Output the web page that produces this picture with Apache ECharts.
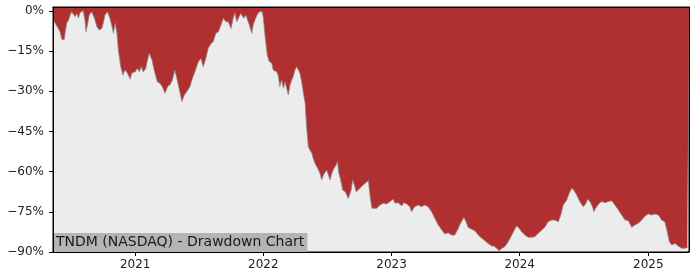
<!DOCTYPE html>
<html>
<head>
<meta charset="utf-8">
<script src="https://cdn.jsdelivr.net/npm/echarts@6/dist/echarts.min.js"></script>
<style>html,body{margin:0;padding:0;background:#fff}#c{width:700px;height:280px}</style>
</head>
<body>
<div id="c"></div>
<script>
const dates = [
'2020-05-12','2020-05-18','2020-05-23','2020-06-01','2020-06-06','2020-06-13','2020-06-16','2020-06-20','2020-06-25','2020-06-30',
'2020-07-04','2020-07-09','2020-07-14','2020-07-19','2020-07-23','2020-07-28','2020-08-02','2020-08-06','2020-08-11','2020-08-14',
'2020-08-19','2020-08-23','2020-08-30','2020-09-02','2020-09-07','2020-09-14','2020-09-21','2020-09-28','2020-10-02','2020-10-07',
'2020-10-14','2020-10-17','2020-10-21','2020-10-26','2020-10-31','2020-11-05','2020-11-10','2020-11-14','2020-11-21','2020-11-27',
'2020-12-03','2020-12-10','2020-12-18','2020-12-22','2021-01-01','2021-01-07','2021-01-13','2021-01-18','2021-01-24','2021-01-31',
'2021-02-05','2021-02-10','2021-02-14','2021-02-18','2021-02-24','2021-03-01','2021-03-05','2021-03-13','2021-03-19','2021-03-27',
'2021-04-04','2021-04-10','2021-04-17','2021-04-24','2021-04-29','2021-05-06','2021-05-14','2021-05-21','2021-05-28','2021-06-06',
'2021-06-13','2021-06-20','2021-06-30','2021-07-07','2021-07-14','2021-07-21','2021-07-28','2021-08-05','2021-08-11','2021-08-19',
'2021-08-26','2021-09-04','2021-09-09','2021-09-16','2021-09-23','2021-10-01','2021-10-07','2021-10-12','2021-10-17','2021-10-24',
'2021-10-29','2021-11-02','2021-11-06','2021-11-12','2021-11-17','2021-11-22','2021-11-29','2021-12-03','2021-12-08','2021-12-14',
'2021-12-20','2021-12-25','2021-12-29','2022-01-01','2022-01-06','2022-01-12','2022-01-18','2022-01-25','2022-01-29','2022-02-03',
'2022-02-08','2022-02-12','2022-02-17','2022-02-22','2022-02-27','2022-03-04','2022-03-06','2022-03-13','2022-03-18','2022-03-23',
'2022-03-27','2022-04-01','2022-04-06','2022-04-11','2022-04-15','2022-04-20','2022-04-25','2022-04-30','2022-05-04','2022-05-09',
'2022-05-14','2022-05-19','2022-05-23','2022-05-28','2022-06-02','2022-06-07','2022-06-11','2022-06-16','2022-06-21','2022-06-26',
'2022-06-30','2022-07-05','2022-07-10','2022-07-15','2022-07-21','2022-07-27','2022-07-31','2022-08-04','2022-08-09','2022-08-15',
'2022-08-22','2022-08-26','2022-08-31','2022-09-05','2022-09-08','2022-09-12','2022-09-17','2022-09-22','2022-09-28','2022-10-08',
'2022-10-17','2022-10-27','2022-11-01','2022-11-06','2022-11-10','2022-11-20','2022-11-29','2022-12-09','2022-12-18','2022-12-28',
'2023-01-06','2023-01-11','2023-01-20','2023-01-30','2023-02-05','2023-02-13','2023-02-22','2023-02-27','2023-03-08','2023-03-18',
'2023-03-27','2023-04-06','2023-04-15','2023-04-25','2023-05-04','2023-05-14','2023-05-24','2023-06-02','2023-06-11','2023-06-21',
'2023-06-30','2023-07-05','2023-07-10','2023-07-14','2023-07-19','2023-07-26','2023-08-01','2023-08-07','2023-08-17','2023-08-26',
'2023-09-05','2023-09-15','2023-09-24','2023-10-03','2023-10-13','2023-10-20','2023-10-27','2023-11-04','2023-11-11','2023-11-17',
'2023-11-25','2023-12-02','2023-12-12','2023-12-19','2023-12-23','2023-12-31','2024-01-06','2024-01-16','2024-01-25','2024-02-04',
'2024-02-13','2024-02-23','2024-03-04','2024-03-13','2024-03-22','2024-04-01','2024-04-10','2024-04-20','2024-04-27','2024-05-04',
'2024-05-14','2024-05-21','2024-05-28','2024-06-03','2024-06-11','2024-06-20','2024-06-30','2024-07-08','2024-07-12','2024-07-19',
'2024-07-26','2024-07-30','2024-08-04','2024-08-09','2024-08-15','2024-08-21','2024-08-31','2024-09-09','2024-09-19','2024-09-28',
'2024-10-08','2024-10-17','2024-10-27','2024-11-05','2024-11-15','2024-11-24','2024-12-04','2024-12-13','2024-12-23','2025-01-01',
'2025-01-11','2025-01-20','2025-01-30','2025-02-08','2025-02-17','2025-02-24','2025-03-02','2025-03-09','2025-03-18','2025-03-27',
'2025-04-06','2025-04-16','2025-04-22','2025-04-27'
];
const drawdown = [
-3.5,-4.6,-5.3,-7.8,-10.7,-10.7,-7.8,-4.7,-3.5,-1.6,
-0.4,0,-2.2,-1.0,-2.8,-0.7,-0.4,0,-3.5,-7.8,
-4.7,-1.6,-0.4,0,-2.8,-6.0,-7.2,-6.6,-4.7,-1.6,
-0.4,0,-2.8,-5.3,-8.4,-4.7,-8.4,-14.7,-20.9,-24.0,
-22.1,-23.3,-25.6,-23.3,-22.8,-21.5,-22.8,-20.9,-22.8,-21.5,
-18.4,-15.9,-15.3,-18.4,-22.1,-22.8,-26.5,-27.1,-28.3,-30.8,
-28.1,-27.7,-25.8,-22.1,-22.8,-28.9,-33.9,-31.4,-30.2,-28.3,
-25.2,-22.8,-19.0,-17.8,-20.9,-17.8,-14.0,-12.2,-11.6,-8.4,
-7.8,-4.7,-2.8,-4.1,-4.1,-6.6,-2.8,-0.7,-4.1,-2.2,
-1.0,-0.4,-2.8,-1.6,-1.6,-5.3,-8.4,-5.3,-3.5,-1.6,
-0.4,0,-0.4,-2.8,-9.7,-16.5,-19.0,-19.6,-22.1,-22.8,
-22.8,-24.0,-28.3,-25.8,-28.9,-26.5,-27.7,-31.4,-27.7,-25.8,
-24.6,-22.1,-20.9,-22.1,-23.3,-26.5,-30.8,-34.5,-43.3,-50.7,
-52.0,-53.2,-55.1,-56.9,-57.6,-59.4,-60.6,-63.1,-61.3,-60.6,
-59.4,-60.1,-63.1,-60.6,-58.8,-57.6,-56.3,-60.6,-63.1,-66.9,
-67.5,-68.1,-70.0,-70.0,-66.9,-63.1,-65.0,-67.5,-66.9,-65.6,
-64.4,-63.4,-69.4,-73.7,-74.3,-73.7,-72.5,-71.8,-72.1,-71.2,
-70.3,-71.8,-71.6,-72.8,-71.6,-72.1,-73.1,-75.0,-73.1,-72.5,
-73.1,-72.5,-73.1,-75.0,-77.4,-79.9,-81.8,-83.3,-82.8,-83.7,
-83.7,-83.0,-81.2,-79.9,-78.7,-77.1,-78.7,-80.8,-81.5,-82.1,
-83.7,-84.9,-85.8,-86.8,-87.8,-87.8,-88.6,-89.5,-88.6,-88.3,
-87.0,-85.5,-83.0,-81.2,-80.3,-81.2,-82.4,-83.7,-84.5,-84.5,
-84.3,-83.0,-81.8,-80.6,-78.7,-78.1,-78.1,-78.7,-76.2,-72.5,
-70.6,-68.1,-66.2,-66.9,-68.7,-71.2,-73.1,-71.8,-70.3,-71.2,
-73.1,-75.0,-73.7,-74.3,-71.8,-71.2,-71.6,-71.2,-70.9,-72.5,
-74.3,-76.2,-78.1,-78.3,-80.8,-79.9,-79.3,-78.1,-76.6,-75.8,
-76.2,-75.8,-76.2,-78.1,-78.7,-82.4,-86.2,-87.4,-86.8,-87.8,
-88.6,-88.6,-88.3,-88.3
];
const yTicks = [0, -15, -30, -45, -60, -75, -90];
const yearTicks = ['2021-01-01', '2022-01-01', '2023-01-01', '2024-01-01', '2025-01-01'];
const dateRange = ['2020-05-12', '2025-04-27'];
const yRange = [-90, 1.4];
const titleText = 'TNDM (NASDAQ) - Drawdown Chart';

const chart = echarts.init(document.getElementById('c'), null, {renderer: 'canvas'});
const parse = s => Date.UTC(+s.slice(0, 4), +s.slice(5, 7) - 1, +s.slice(8, 10));
const font = 'DejaVu Sans';
const xTickVals = yearTicks.map(parse);
chart.setOption({
  animation: false,
  textStyle: {fontFamily: font},
  title: {
    text: titleText,
    left: 53, top: 233,
    padding: [2, 3, 2, 3],
    backgroundColor: '#b4b4b4',
    textStyle: {fontFamily: font, fontSize: 14, fontWeight: 'normal', color: '#1a1a1a', lineHeight: 15}
  },
  grid: {left: 53, right: 11, top: 7, bottom: 28, show: true, backgroundColor: '#ececec', borderColor: '#000', borderWidth: 1},
  xAxis: [{
    type: 'value', min: parse(dateRange[0]), max: parse(dateRange[1]), z: 10,
    axisLine: {show: true, onZero: false, lineStyle: {color: '#000', width: 1}},
    axisTick: {show: true, length: 4, lineStyle: {color: '#000'}, customValues: xTickVals},
    axisLabel: {fontFamily: font, fontSize: 12, color: '#222', margin: 7,
      customValues: xTickVals,
      formatter: v => String(new Date(v).getUTCFullYear())},
    splitLine: {show: false}
  }, {
    type: 'value', position: 'top', min: parse(dateRange[0]), max: parse(dateRange[1]), z: 10,
    axisLine: {show: true, onZero: false, lineStyle: {color: '#000'}}, axisTick: {show: false}, axisLabel: {show: false}, splitLine: {show: false}
  }],
  yAxis: [{
    type: 'value', min: yRange[0], max: yRange[1], z: 10,
    axisLine: {show: true, onZero: false, lineStyle: {color: '#000'}},
    axisTick: {show: true, length: 4, lineStyle: {color: '#000'}, customValues: yTicks},
    axisLabel: {fontFamily: font, fontSize: 12, color: '#222', margin: 9, customValues: yTicks,
      formatter: v => (v < 0 ? '\u2212' : '') + Math.abs(v) + '%'},
    splitLine: {show: false}
  }, {
    type: 'value', position: 'right', min: yRange[0], max: yRange[1], z: 10,
    axisLine: {show: true, onZero: false, lineStyle: {color: '#000'}}, axisTick: {show: false}, axisLabel: {show: false}, splitLine: {show: false}
  }],
  series: [{
    type: 'line',
    data: dates.map((d, i) => [parse(d), drawdown[i]]),
    showSymbol: false,
    symbol: 'none',
    lineStyle: {color: '#8c8c8c', width: 0.8},
    areaStyle: {color: '#b03031', opacity: 1, origin: 'end'},
    silent: true
  }]
});
</script>
</body>
</html>
